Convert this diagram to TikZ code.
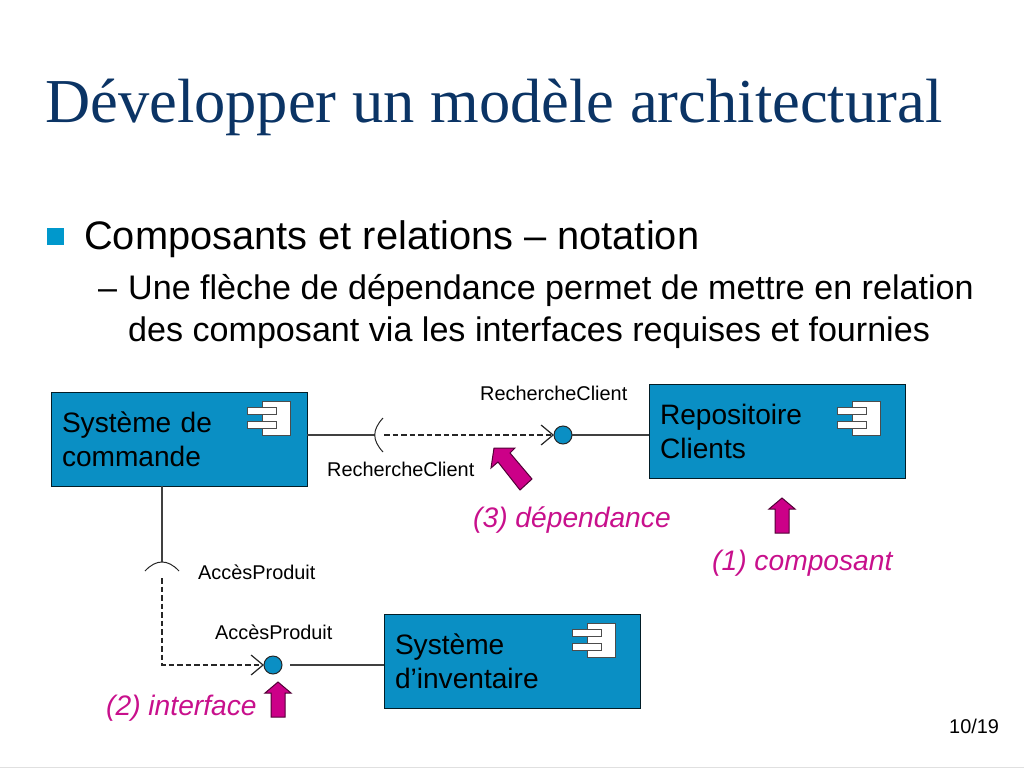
\documentclass[tikz,border=0pt]{standalone}
\usepackage{fontspec}
\setmainfont{Liberation Sans}
\newfontfamily\titlefont{Liberation Serif}
\usetikzlibrary{positioning, arrows.meta}
\definecolor{titleblue}{HTML}{0B3465}
\definecolor{boxblue}{HTML}{0A8FC4}
\definecolor{bulletblue}{HTML}{0098CC}
\definecolor{magtext}{HTML}{C8108C}
\definecolor{magfill}{HTML}{CC0088}
\tikzset{
  compbox/.style={shape=rectangle,draw=black!80!boxblue,fill=boxblue,line width=1pt,outer sep=0pt,
    anchor=north west,minimum width=256pt,minimum height=94pt,inner xsep=11pt,text width=234pt,
    align=left,font=\fontsize{28.1}{34}\selectfont},
  iface/.style={shape=circle,draw=black!85,fill=boxblue,line width=1pt,minimum size=18pt,inner sep=0pt,outer sep=0pt},
  conn/.style={draw=black!75,line width=1.1pt},
  deplink/.style={draw=black!85,line width=1.2pt,dash pattern=on 5.5pt off 3pt,-{Straight Barb[length=12pt,width=20pt,line width=1.2pt]}},
  socket/.style={draw=black!85,line width=1pt},
  smalltext/.style={anchor=base west,inner sep=0pt,font=\fontsize{19.9}{24}\selectfont},
  magtext/.style={anchor=base west,inner sep=0pt,text=magtext,font=\fontsize{28.2}{32}\itshape\selectfont},
  bodyone/.style={anchor=base west,inner sep=0pt,font=\fontsize{39.8}{46}\selectfont},
  bodytwo/.style={anchor=base west,inner sep=0pt,font=\fontsize{34.1}{40}\selectfont},
  magarrow/.style={fill=magfill,draw=black!60!magfill,line width=1pt,line join=miter},
  compicon/.pic={
    \draw[fill=white,draw=black!70,line width=1pt] (-28,-34) rectangle (0,0);
    \draw[fill=white,draw=black!70,line width=1pt] (-43,-28) rectangle (-14,-21);
    \draw[fill=white,draw=black!70,line width=1pt] (-43,-14) rectangle (-14,-7);
  },
  uparrow/.pic={
    \draw[magarrow] (0,0) -- (13,11) -- (7,11) -- (7,35) -- (-7,35) -- (-7,11) -- (-13,11) -- cycle;
  }
}
\begin{document}
\begin{tikzpicture}[x=1pt,y=-1pt]
\useasboundingbox (0,0) rectangle (1024,768);
\draw[black!12,line width=1pt] (0,767) -- (1024,767);

% title and bullets
\node[anchor=base west,inner sep=0pt,text=titleblue,font=\fontsize{62.5}{70}\titlefont] (title) at (45,122) {Développer un modèle architectural};
\node[shape=rectangle,fill=bulletblue,minimum size=17pt,inner sep=0pt] (bulletOne) at (55.5,236.5) {};
\node[bodyone] (lineOne) at (84,249) {Composants et relations -- notation};
\node[bodytwo] (dashTwo) at (98,299) {--};
\node[bodytwo] (lineTwo) at (128,299) {Une flèche de dépendance permet de mettre en relation};
\node[bodytwo] (lineThree) at (128,341) {des composant via les interfaces requises et fournies};

% components
\node[compbox] (sysCommande) at (51,392) {Système de\\commande};
\node[compbox] (repoClients) at (649,384) {Repositoire\\Clients};
\node[compbox] (sysInventaire) at (384,614) {Système\\d’inventaire};
\pic at (290,435) {compicon};
\pic at (880,435) {compicon};
\pic at (615,657) {compicon};

% interfaces
\node[iface] (ifaceRecherche) at (563,435) {};
\node[iface] (ifaceAcces) at (273,665) {};
\coordinate (socketRecherche) at (375,435);
\coordinate (socketAcces) at (162,562);
\coordinate (startRecherche) at (384,435);
\coordinate (startAcces) at (162,578);
\coordinate (cornerAcces) at (162,665);
\coordinate (endAcces) at (290,665);

\draw[conn] (sysCommande.east |- socketRecherche) -- (socketRecherche);
\draw[conn] (ifaceRecherche) -- (repoClients.west |- ifaceRecherche);
\draw[conn] (sysCommande.south -| socketAcces) -- (socketAcces);
\draw[conn] (endAcces) -- (sysInventaire.west |- endAcces);
\draw[socket] (383,418) .. controls (372,430) and (372,440) .. (383,452);
\draw[socket] (145,571) .. controls (156,559) and (168,559) .. (179,571);
\draw[deplink] (startRecherche) -- (ifaceRecherche.west);
\draw[deplink] (startAcces) -- (cornerAcces) -- (ifaceAcces.west);

% labels
\node[smalltext] (labelRechOne) at (480,400) {RechercheClient};
\node[smalltext] (labelRechTwo) at (327,476) {RechercheClient};
\node[smalltext] (labelAccesOne) at (198,579) {AccèsProduit};
\node[smalltext] (labelAccesTwo) at (215,639) {AccèsProduit};
\node[smalltext] (pageNum) at (949,733) {10/19};

% callouts
\draw[magarrow] (494,448) -- (515,448) -- (510,453) -- (532,479) -- (520,490) -- (498,462) -- (491,468) -- cycle;
\pic at (782,498) {uparrow};
\pic at (278,682) {uparrow};
\node[magtext] (noteDep) at (473,527) {(3) dépendance};
\node[magtext] (noteComp) at (712,570) {(1) composant};
\node[magtext] (noteIface) at (106,715) {(2) interface};
\end{tikzpicture}
\end{document}
